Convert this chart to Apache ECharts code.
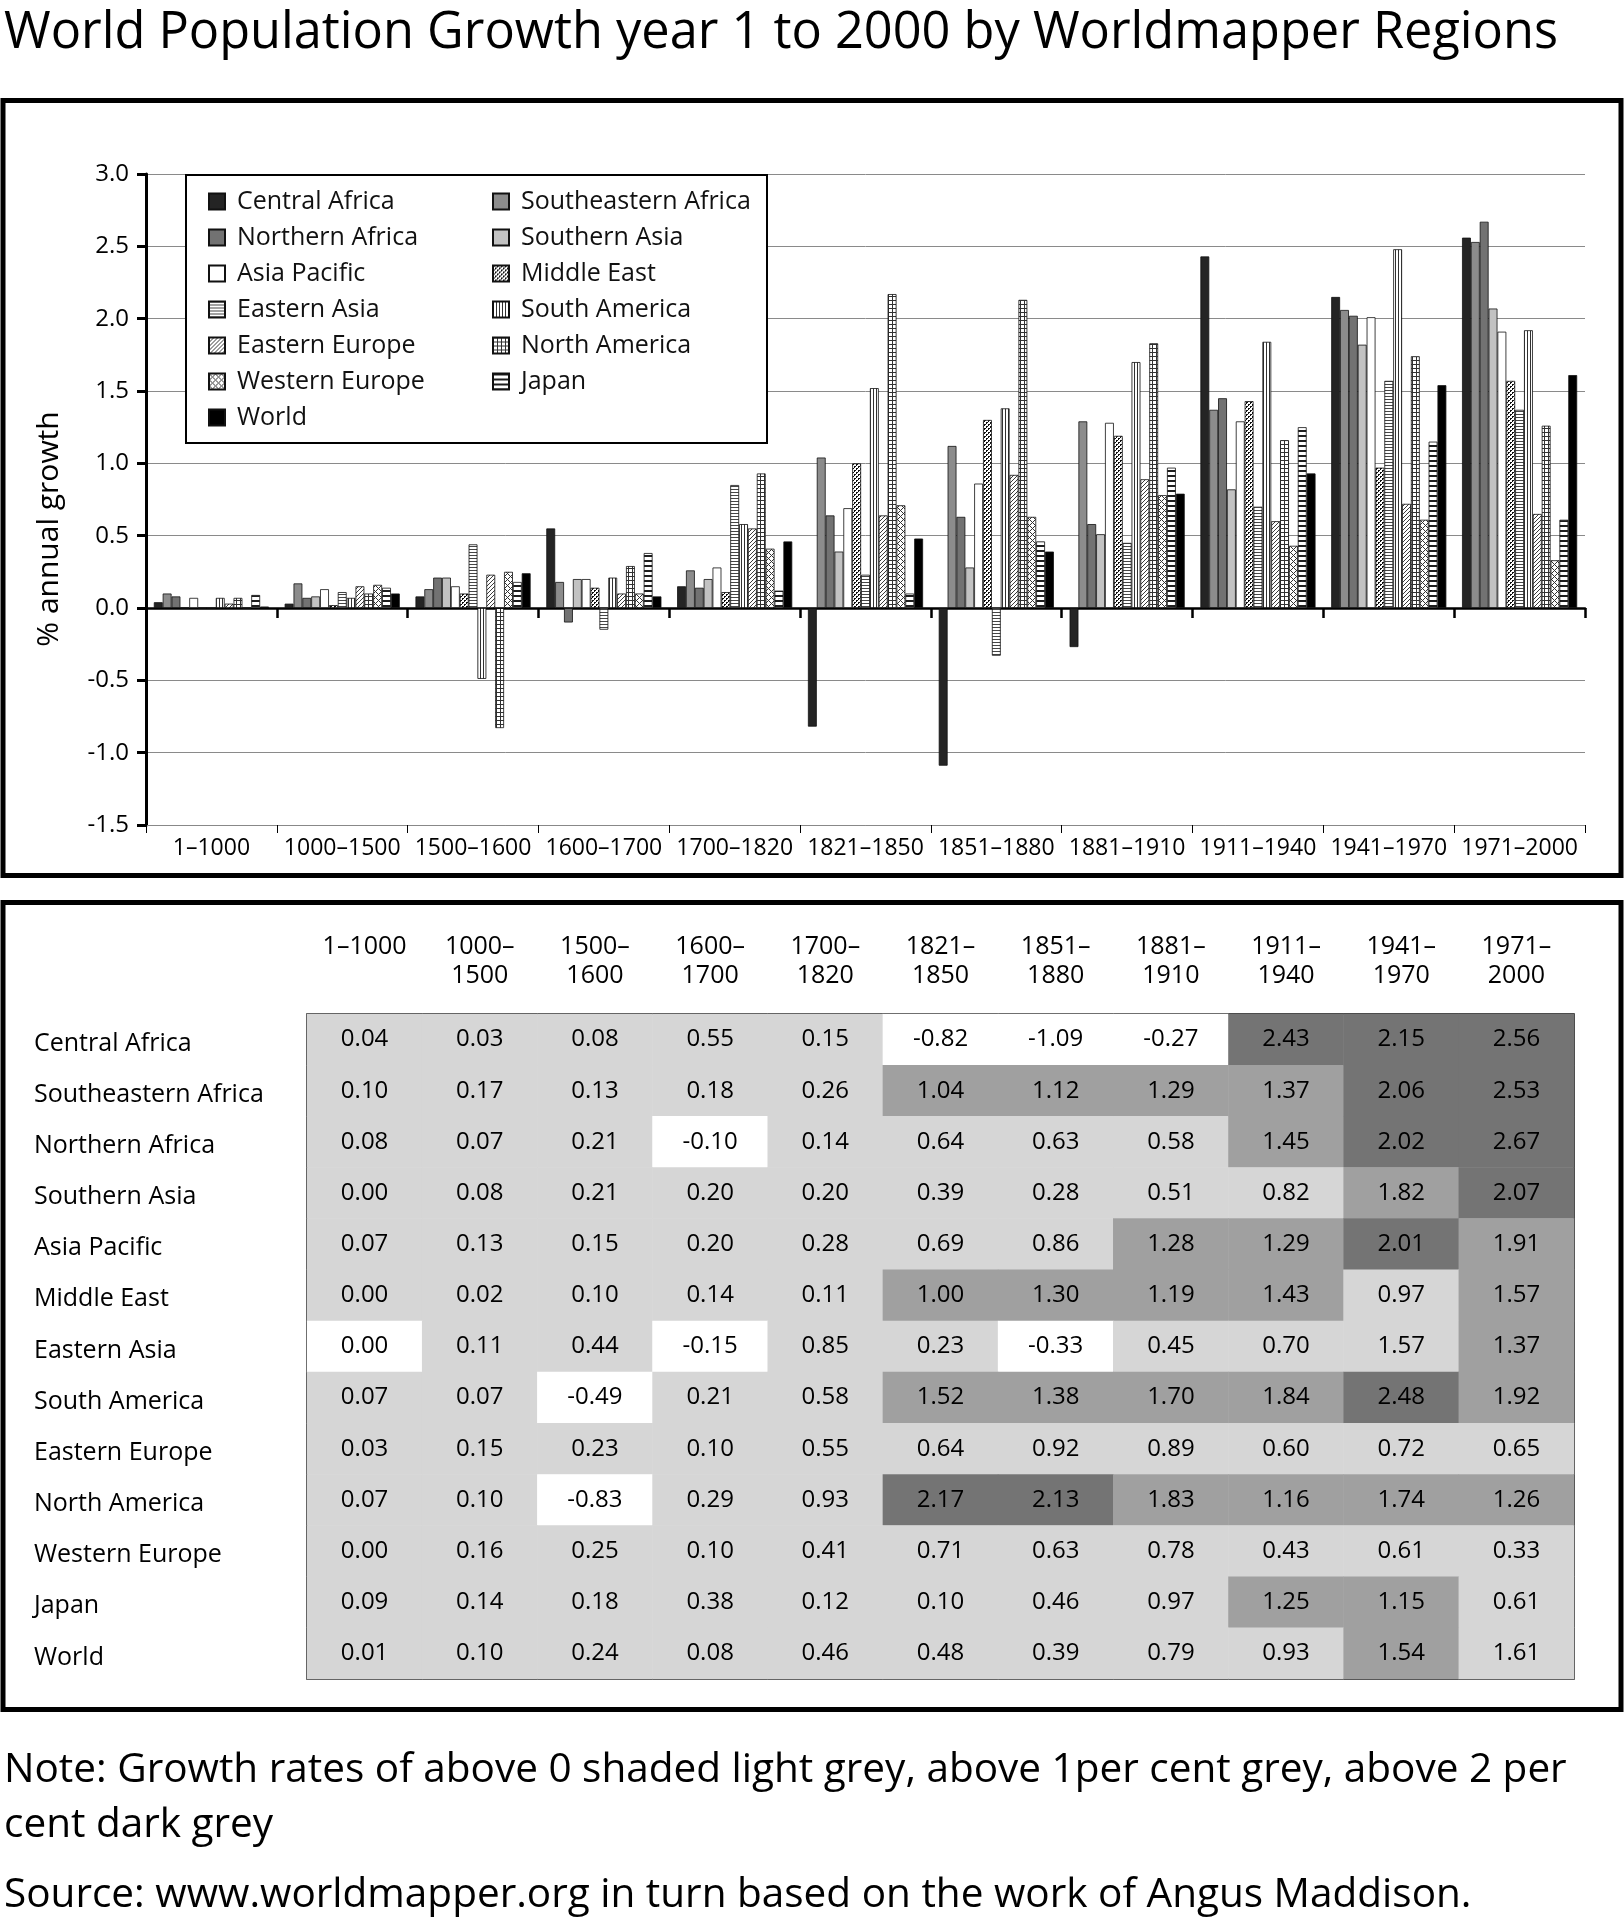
<!DOCTYPE html>
<html><head><meta charset="utf-8">
<script src="https://cdn.jsdelivr.net/npm/echarts@6/dist/echarts.min.js"></script>
<style>html,body{margin:0;padding:0;background:#fff}#c{width:1624px;height:1920px}</style>
</head><body><div id="c"></div>
<script>
// ---------------- DATA ----------------
const periods = ['1–1000','1000–1500','1500–1600','1600–1700','1700–1820','1821–1850','1851–1880','1881–1910','1911–1940','1941–1970','1971–2000'];
const regions = ['Central Africa','Southeastern Africa','Northern Africa','Southern Asia','Asia Pacific','Middle East','Eastern Asia','South America','Eastern Europe','North America','Western Europe','Japan','World'];

const centralAfrica      = [0.04,0.03,0.08,0.55,0.15,-0.82,-1.09,-0.27,2.43,2.15,2.56];
const southeasternAfrica = [0.10,0.17,0.13,0.18,0.26,1.04,1.12,1.29,1.37,2.06,2.53];
const northernAfrica     = [0.08,0.07,0.21,-0.10,0.14,0.64,0.63,0.58,1.45,2.02,2.67];
const southernAsia       = [0.00,0.08,0.21,0.20,0.20,0.39,0.28,0.51,0.82,1.82,2.07];
const asiaPacific        = [0.07,0.13,0.15,0.20,0.28,0.69,0.86,1.28,1.29,2.01,1.91];
const middleEast         = [0.00,0.02,0.10,0.14,0.11,1.00,1.30,1.19,1.43,0.97,1.57];
const easternAsia        = [0.00,0.11,0.44,-0.15,0.85,0.23,-0.33,0.45,0.70,1.57,1.37];
const southAmerica       = [0.07,0.07,-0.49,0.21,0.58,1.52,1.38,1.70,1.84,2.48,1.92];
const easternEurope      = [0.03,0.15,0.23,0.10,0.55,0.64,0.92,0.89,0.60,0.72,0.65];
const northAmerica       = [0.07,0.10,-0.83,0.29,0.93,2.17,2.13,1.83,1.16,1.74,1.26];
const westernEurope      = [0.00,0.16,0.25,0.10,0.41,0.71,0.63,0.78,0.43,0.61,0.33];
const japan              = [0.09,0.14,0.18,0.38,0.12,0.10,0.46,0.97,1.25,1.15,0.61];
const world              = [0.01,0.10,0.24,0.08,0.46,0.48,0.39,0.79,0.93,1.54,1.61];

// table shading level as printed: 0 white, 1 light grey, 2 grey, 3 dark grey
const shadeCentralAfrica      = [1,1,1,1,1,0,0,0,3,3,3];
const shadeSoutheasternAfrica = [1,1,1,1,1,2,2,2,2,3,3];
const shadeNorthernAfrica     = [1,1,1,0,1,1,1,1,2,3,3];
const shadeSouthernAsia       = [1,1,1,1,1,1,1,1,1,2,3];
const shadeAsiaPacific        = [1,1,1,1,1,1,1,2,2,3,2];
const shadeMiddleEast         = [1,1,1,1,1,2,2,2,2,1,2];
const shadeEasternAsia        = [0,1,1,0,1,1,0,1,1,1,2];
const shadeSouthAmerica       = [1,1,0,1,1,2,2,2,2,3,2];
const shadeEasternEurope      = [1,1,1,1,1,1,1,1,1,1,1];
const shadeNorthAmerica       = [1,1,0,1,1,3,3,2,2,2,2];
const shadeWesternEurope      = [1,1,1,1,1,1,1,1,1,1,1];
const shadeJapan              = [1,1,1,1,1,1,1,1,2,2,1];
const shadeWorld              = [1,1,1,1,1,1,1,1,1,2,1];

const yMin = -1.5, yMax = 3.0, yStep = 0.5;

// ---------------- BUILD ----------------
const values = [centralAfrica,southeasternAfrica,northernAfrica,southernAsia,asiaPacific,middleEast,easternAsia,southAmerica,easternEurope,northAmerica,westernEurope,japan,world];
const shades = [shadeCentralAfrica,shadeSoutheasternAfrica,shadeNorthernAfrica,shadeSouthernAsia,shadeAsiaPacific,shadeMiddleEast,shadeEasternAsia,shadeSouthAmerica,shadeEasternEurope,shadeNorthAmerica,shadeWesternEurope,shadeJapan,shadeWorld];

const FONT = '"Open Sans", "Noto Sans", sans-serif';

function tile(n, fn) {
  const c = document.createElement('canvas'); c.width = n; c.height = n;
  const g = c.getContext('2d'); const img = g.createImageData(n, n);
  for (let y = 0; y < n; y++) for (let x = 0; x < n; x++) {
    const v = fn(x, y); const k = (y * n + x) * 4;
    img.data[k] = img.data[k+1] = img.data[k+2] = v; img.data[k+3] = 255;
  }
  g.putImageData(img, 0, 0);
  return { image: c, repeat: 'repeat' };
}
const dotOn = (x, y) => (x<2 && y<2 && !(x===1 && y===1)) || (x>=2 && y>=2 && !(x===3 && y===3));
const fills = [
  '#242424',
  '#8c8c8c',
  '#727272',
  '#c2c2c2',
  '#ffffff',
  tile(4, (x,y) => dotOn(x,y) ? 15 : 255),
  tile(3, (x,y) => y===0 ? 70 : 255),
  tile(3, (x,y) => x===0 ? 50 : 255),
  tile(4, (x,y) => (x+y)%4===0 ? 60 : 255),
  tile(4, (x,y) => (x===0||y===0) ? 50 : 255),
  tile(6, (x,y) => ((x+y)%6===0 || (x-y+6)%6===0) ? 50 : 255),
  tile(5, (x,y) => y<2 ? 30 : 255),
  '#000000'
];

const barSeries = regions.map((r, i) => ({
  type: 'bar', name: r, data: values[i], xAxisIndex: 0, yAxisIndex: 0,
  barGap: '0%', barCategoryGap: '12%',
  itemStyle: { color: fills[i], borderColor: '#111', borderWidth: 0.8 },
  emphasis: { disabled: true }, animation: false
}));

const heatData = [];
regions.forEach((r, i) => periods.forEach((p, j) => heatData.push([j, i, shades[i][j], values[i][j]])));

const legendCol1 = [regions[0], regions[2], regions[4], regions[6], regions[8], regions[10], regions[12]];
const legendCol2 = [regions[1], regions[3], regions[5], regions[7], regions[9], regions[11]];
const legendBase = {
  orient: 'vertical', top: 188.5, padding: 0, itemWidth: 16, itemHeight: 16, itemGap: 10,
  icon: 'rect', selectedMode: false, z: 5,
  textStyle: { fontSize: 25, fontFamily: FONT, color: '#111', lineHeight: 26, padding: [0,0,0,7] }
};

function txt(text, x, y, size, extra) {
  return Object.assign({ type: 'text', x: x, y: y, silent: true, z: 10,
    style: { text: text, fontSize: size, fontFamily: FONT, fill: '#000',
      align: 'left', verticalAlign: 'middle', textAlign: 'left', textVerticalAlign: 'middle' } }, extra || {});
}

const option = {
  animation: false,
  backgroundColor: '#fff',
  textStyle: { fontFamily: FONT },
  grid: [
    { left: 146, top: 174, width: 1439, height: 651 },
    { left: 307, top: 1014, width: 1267, height: 665, show: true, borderColor: '#000', borderWidth: 1.5, backgroundColor: 'rgba(0,0,0,0)' }
  ],
  xAxis: [
    { gridIndex: 0, type: 'category', data: periods, position: 'bottom',
      axisLine: { onZero: true, lineStyle: { color: '#000', width: 2.5 } },
      axisTick: { show: true, interval: 0, length: 10, lineStyle: { color: '#000', width: 2.5 } },
      axisLabel: { show: false }, splitLine: { show: false } },
    { gridIndex: 0, type: 'category', data: periods, position: 'bottom',
      axisLine: { onZero: false, lineStyle: { color: '#888', width: 1 } },
      axisTick: { show: true, interval: 0, length: 8, lineStyle: { color: '#000', width: 1 } },
      axisLabel: { interval: 0, fontSize: 23, color: '#000', margin: 12, fontFamily: FONT }, splitLine: { show: false } },
    { gridIndex: 1, type: 'category', data: periods, position: 'top',
      axisLine: { show: false }, axisTick: { show: false }, splitLine: { show: false },
      axisLabel: { interval: 0, fontSize: 25, lineHeight: 29, color: '#000', verticalAlign: 'top', margin: 82, fontFamily: FONT,
        formatter: v => { const k = v.indexOf('–'); return k >= 4 ? v.slice(0, k + 1) + '\n' + v.slice(k + 1) : v; } } }
  ],
  yAxis: [
    { gridIndex: 0, type: 'value', min: yMin, max: yMax, interval: yStep,
      axisLine: { show: true, onZero: false, lineStyle: { color: '#000', width: 3 } },
      axisTick: { show: true, length: 9, lineStyle: { color: '#000', width: 3 } },
      axisLabel: { fontSize: 24, color: '#000', margin: 17, fontFamily: FONT, formatter: v => v.toFixed(1) },
      splitLine: { show: true, lineStyle: { color: '#8a8a8a', width: 1 } } },
    { gridIndex: 1, type: 'category', data: regions, inverse: true,
      axisLine: { show: false }, axisTick: { show: false }, splitLine: { show: false },
      axisLabel: { interval: 0, fontSize: 25, color: '#000', align: 'left', verticalAlign: 'top', lineHeight: 8, margin: 273, fontFamily: FONT } }
  ],
  legend: [
    Object.assign({}, legendBase, { left: 208, data: legendCol1 }),
    Object.assign({}, legendBase, { left: 492, data: legendCol2 })
  ],
  visualMap: {
    type: 'piecewise', show: false, seriesIndex: regions.length, dimension: 2,
    pieces: [ { value: 0, color: '#ffffff' }, { value: 1, color: '#d6d6d6' }, { value: 2, color: '#a0a0a0' }, { value: 3, color: '#747474' } ]
  },
  series: barSeries.concat([{
    type: 'heatmap', xAxisIndex: 2, yAxisIndex: 1, data: heatData,
    itemStyle: { borderWidth: 0 }, emphasis: { disabled: true },
    label: { show: true, fontSize: 24, color: '#000', fontFamily: FONT, formatter: p => p.value[3].toFixed(2) }
  }]),
  graphic: [
    { type: 'rect', silent: true, z: 1, shape: { x: 3, y: 100.5, width: 1618, height: 775 }, style: { fill: 'none', stroke: '#000', lineWidth: 5 } },
    { type: 'rect', silent: true, z: 1, shape: { x: 3, y: 902.5, width: 1618, height: 807 }, style: { fill: 'none', stroke: '#000', lineWidth: 5 } },
    { type: 'rect', silent: true, z: 3, shape: { x: 186, y: 175, width: 581, height: 268 }, style: { fill: '#fff', stroke: '#000', lineWidth: 2 } },
    txt('World Population Growth year 1 to 2000 by Worldmapper Regions', 4, 34, 50.5),
    txt('% annual growth', 49, 529, 30, { rotation: Math.PI / 2, style: { text: '% annual growth', fontSize: 30, fontFamily: FONT, fill: '#000', align: 'center', verticalAlign: 'middle', textAlign: 'center', textVerticalAlign: 'middle' } }),
    txt('Note: Growth rates of above 0 shaded light grey, above 1per cent grey, above 2 per', 4, 1770, 40.5),
    txt('cent dark grey', 4, 1825, 40.5),
    txt('Source: www.worldmapper.org in turn based on the work of Angus Maddison.', 4, 1895, 40.5)
  ]
};

const chart = echarts.init(document.getElementById('c'), null, { renderer: 'canvas' });
chart.setOption(option);
</script>
</body></html>
